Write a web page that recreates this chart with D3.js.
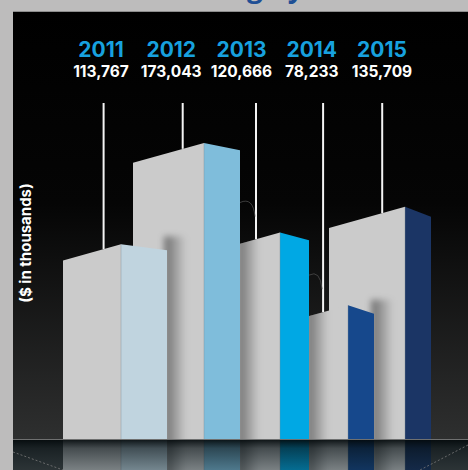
<!DOCTYPE html>
<html>
<head>
<meta charset="utf-8">
<script src="https://cdn.jsdelivr.net/npm/d3@7"></script>
<style>
  html, body { margin: 0; padding: 0; background: #bdbcbc; overflow: hidden; }
  svg { display: block; }
</style>
</head>
<body>
<svg id="chart" width="468" height="470"></svg>
<script>
// ---- data ----
const years = ["2011", "2012", "2013", "2014", "2015"];
const values = [113767, 173043, 120666, 78233, 135709];
const sideColors = ["#c0d4df", "#7fbddb", "#00a8e4", "#16488c", "#1b3565"];
const titleText = "Funding by Year";
const axisLabel = "($ in thousands)";

// ---- layout ----
const W = 468, H = 470;
const panelX = 13, panelY = 11;
const groundY = 439;
const frontColor = "#cbcbcb";
// skyline geometry: each building has a front face and a receding side face
const ridgeX = [121, 204, 280, 348, 405];   // corner where front meets side
const frontW = [58, 71, 80, 83, 76];
const sideW = [46, 36, 29, 26, 26];
const frontSlope = 0.28;

const svg = d3.select("#chart");
const defs = svg.append("defs");

const y = d3.scaleLinear().domain([0, 180000]).range([groundY, groundY - 308]);
const ridge = d3.scaleLinear().domain(d3.range(years.length)).range(ridgeX);
const sideSlope = d3.scaleLinear().domain([ridgeX[0], ridgeX[ridgeX.length - 1]]).range([0.13, 0.38]);
const labelX = d3.scalePoint().domain(years).range([101, 382]);
const fmt = d3.format(",");

// ---- gradients / filters ----
const sky = defs.append("linearGradient").attr("id", "sky")
  .attr("x1", 0).attr("y1", 0).attr("x2", 0).attr("y2", 1);
sky.append("stop").attr("offset", 0).attr("stop-color", "#000");
sky.append("stop").attr("offset", 0.45).attr("stop-color", "#050505");
sky.append("stop").attr("offset", 1).attr("stop-color", "#2e2f2f");

const shade = defs.append("linearGradient").attr("id", "shade")
  .attr("x1", 0).attr("y1", 0).attr("x2", 1).attr("y2", 0);
shade.append("stop").attr("offset", 0.1).attr("stop-color", "#000").attr("stop-opacity", 0.42);
shade.append("stop").attr("offset", 1).attr("stop-color", "#000").attr("stop-opacity", 0);

const fade = defs.append("linearGradient").attr("id", "fade")
  .attr("x1", 0).attr("y1", 0).attr("x2", 0).attr("y2", 1);
fade.append("stop").attr("offset", 0).attr("stop-color", "#02080a").attr("stop-opacity", 0.96);
fade.append("stop").attr("offset", 0.3).attr("stop-color", "#061014").attr("stop-opacity", 0.68);
fade.append("stop").attr("offset", 1).attr("stop-color", "#0b1a20").attr("stop-opacity", 0.42);

defs.append("filter").attr("id", "soft").attr("x", "-50%").attr("y", "-50%")
  .attr("width", "200%").attr("height", "200%")
  .append("feGaussianBlur").attr("stdDeviation", 3);

defs.append("clipPath").attr("id", "floorClip")
  .append("rect").attr("x", panelX).attr("y", groundY).attr("width", W - panelX).attr("height", H - groundY);

// ---- frame ----
svg.append("rect").attr("x", 0).attr("y", 0).attr("width", W).attr("height", H).attr("fill", "#bdbcbc");
svg.append("rect").attr("x", panelX).attr("y", panelY).attr("width", W - panelX).attr("height", groundY - panelY)
  .attr("fill", "url(#sky)");
svg.append("line").attr("x1", panelX).attr("x2", W).attr("y1", panelY + 0.5).attr("y2", panelY + 0.5)
  .attr("stroke", "#8d8d8d").attr("stroke-width", 1);

// title sits mostly above the frame; only its descenders show
const title = svg.append("text").text(titleText)
  .attr("y", -3)
  .attr("font-family", "Open Sans, sans-serif").attr("font-weight", 700).attr("font-size", 28)
  .attr("fill", "#1f4f95");
const gAt = titleText.indexOf("g");
title.attr("x", 247 - title.node().getSubStringLength(0, gAt));

// ---- labels ----
const labels = svg.append("g").attr("font-family", "Inter, sans-serif").attr("text-anchor", "middle");
labels.selectAll("text.year").data(years).join("text").attr("class", "year")
  .attr("x", d => labelX(d)).attr("y", 57)
  .attr("font-size", 21).attr("font-weight", 700).attr("fill", "#17a1df")
  .text(d => d);
labels.selectAll("text.val").data(values).join("text").attr("class", "val")
  .attr("x", (d, i) => labelX(years[i])).attr("y", 77)
  .attr("font-size", 15.5).attr("font-weight", 700).attr("fill", "#fff")
  .text(d => fmt(d));

svg.append("text").text(axisLabel)
  .attr("transform", "translate(31,243) rotate(-90)")
  .attr("text-anchor", "middle")
  .attr("font-family", "Inter, sans-serif").attr("font-weight", 700).attr("font-size", 15)
  .attr("fill", "#fff");

// ---- geometry helpers ----
function geom(i) {
  const rx = ridge(i), top = y(values[i]);
  const fw = frontW[i], sw = sideW[i];
  return {
    rx, top, fw, sw,
    lineX: rx - fw * 0.3,
    front: [[rx - fw, groundY + 40], [rx - fw, top + fw * frontSlope], [rx, top], [rx, groundY + 40]],
    side: [[rx, groundY + 40], [rx, top], [rx + sw, top + sw * sideSlope(rx)], [rx + sw, groundY + 40]],
    sideTopRight: top + sw * sideSlope(rx)
  };
}
const poly = pts => "M" + pts.map(p => p.join(",")).join("L") + "Z";

// hanging lines from each label down to its building
const hangers = svg.append("g");
values.forEach((v, i) => {
  const g = geom(i);
  hangers.append("line")
    .attr("x1", g.lineX).attr("x2", g.lineX)
    .attr("y1", 103).attr("y2", g.top + (g.rx - g.lineX) * frontSlope)
    .attr("stroke", "#f4f4f4").attr("stroke-width", 2);
  // faint hook where the line runs beside a taller neighbour
  if (i > 0 && values[i - 1] > v) {
    const p = geom(i - 1);
    const sx = p.rx + p.sw;
    hangers.append("path")
      .attr("d", `M${sx},${g.top - 30} Q${g.lineX - 3},${g.top - 36} ${g.lineX - 1},${g.top - 16}`)
      .attr("fill", "none").attr("stroke", "#4a4a4a").attr("stroke-width", 0.8);
  }
});

// ---- buildings ----
const city = svg.append("g").attr("id", "city");
d3.range(values.length).reverse().forEach(i => {
  const g = geom(i);
  const b = city.append("g");
  const clipId = "front" + i;
  defs.append("clipPath").attr("id", clipId).append("path").attr("d", poly(g.front));
  b.append("path").attr("d", poly(g.front)).attr("fill", frontColor);
  if (i > 0) {
    const p = geom(i - 1);
    const sx = p.rx + p.sw;
    b.append("rect")
      .attr("x", sx - 3).attr("y", p.sideTopRight - 14)
      .attr("width", 22).attr("height", groundY + 40 - (p.sideTopRight - 14))
      .attr("fill", "url(#shade)")
      .attr("filter", "url(#soft)")
      .attr("clip-path", `url(#${clipId})`);
  }
  b.append("path").attr("d", poly(g.side)).attr("fill", sideColors[i]);
  b.append("line").attr("x1", g.rx).attr("x2", g.rx).attr("y1", g.top).attr("y2", groundY + 40)
    .attr("stroke", "#7f8f99").attr("stroke-opacity", 0.5).attr("stroke-width", 0.8);
});

// ---- floor with reflection ----
const floor = svg.append("g").attr("clip-path", "url(#floorClip)");
floor.append("rect").attr("x", panelX).attr("y", groundY).attr("width", W - panelX).attr("height", H - groundY)
  .attr("fill", "#444646");
floor.append("use").attr("href", "#city")
  .attr("transform", `translate(0,${2 * groundY}) scale(1,-1)`);
floor.append("rect").attr("x", panelX).attr("y", groundY).attr("width", W - panelX).attr("height", H - groundY)
  .attr("fill", "url(#fade)");
// perspective floor lines
floor.append("line").attr("x1", panelX).attr("y1", groundY + 13).attr("x2", 63).attr("y2", H)
  .attr("stroke", "#7a7a7a").attr("stroke-width", 0.8).attr("stroke-dasharray", "2,2");
floor.append("line").attr("x1", W).attr("y1", groundY + 6).attr("x2", 420).attr("y2", H)
  .attr("stroke", "#7a7a7a").attr("stroke-width", 0.8).attr("stroke-dasharray", "2,2");
svg.append("line").attr("x1", panelX).attr("x2", W).attr("y1", groundY + 0.5).attr("y2", groundY + 0.5)
  .attr("stroke", "#6f7070").attr("stroke-width", 1);
</script>
</body>
</html>
